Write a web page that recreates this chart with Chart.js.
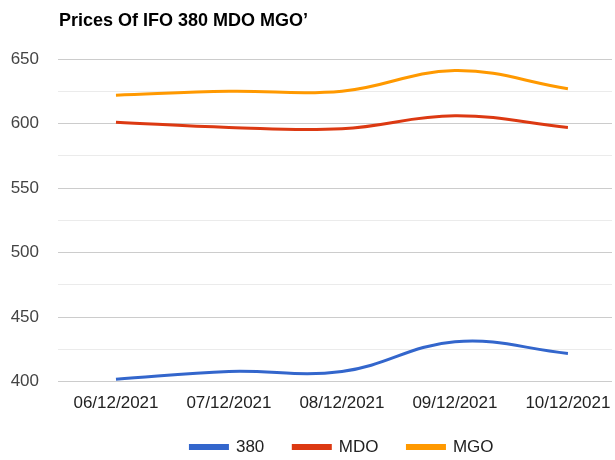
<!DOCTYPE html>
<html>
<head>
<meta charset="utf-8">
<script src="https://cdn.jsdelivr.net/npm/chart.js@4.4.1/dist/chart.umd.min.js"></script>
<style>
  body { margin: 0; background: #fff; }
  #wrap { position: relative; width: 615px; height: 460px; }
  #title { position: absolute; left: 59px; top: 10px; font: bold 18px "Liberation Sans", Arial, sans-serif; color: #000; }
</style>
</head>
<body>
<div id="wrap">
  <div id="title">Prices Of IFO 380 MDO MGO’</div>
  <canvas id="priceChart" width="615" height="460"></canvas>
</div>
<script>
const dates = ['06/12/2021', '07/12/2021', '08/12/2021', '09/12/2021', '10/12/2021'];
const ifo380 = [402, 408, 408, 431, 422];
const mdo = [601, 597, 596, 606, 597];
const mgo = [622, 625, 625, 641, 627];

const toPoints = arr => arr.map((v, i) => ({ x: i, y: v }));
const fontFamily = '"Liberation Sans", Arial, sans-serif';

function line(label, values, color) {
    return {
        label: label,
        data: toPoints(values),
        borderColor: color,
        backgroundColor: color,
        borderWidth: 3,
        pointRadius: 0,
        tension: 0.4,
        fill: false
    };
}

// nudge the legend to where the original sits (a bit right, a bit up)
const legendShift = {
    id: 'legendShift',
    afterUpdate(chart) {
        const lg = chart.legend;
        lg.left += 36;
        lg.right += 36;
        lg.top -= 5;
        lg.bottom -= 5;
    }
};

const ctx = document.getElementById('priceChart').getContext('2d');
new Chart(ctx, {
    type: 'line',
    data: {
        datasets: [
            line('380', ifo380, '#3366cc'),
            line('MDO', mdo, '#dc3912'),
            line('MGO', mgo, '#ff9900')
        ]
    },
    options: {
        responsive: false,
        animation: false,
        layout: { padding: { top: 59, right: 3, left: 0, bottom: -10.5 } },
        scales: {
            x: {
                type: 'linear',
                min: -0.513,
                max: 4.39,
                afterBuildTicks: axis => {
                    axis.ticks = dates.map((d, i) => ({ value: i }));
                },
                afterFit: s => { s.height = 32.7; },
                grid: { display: false },
                border: { display: false },
                ticks: {
                    callback: value => dates[value],
                    color: '#222',
                    font: { size: 17, family: fontFamily },
                    maxRotation: 0,
                    autoSkip: false,
                    padding: 3
                }
            },
            y: {
                min: 400,
                max: 650,
                afterFit: s => { s.width = 58; },
                border: { display: false },
                grid: {
                    color: c => (c.tick.value % 50 === 0 ? '#cccccc' : '#ebebeb'),
                    lineWidth: 1,
                    drawTicks: false
                },
                ticks: {
                    stepSize: 25,
                    callback: v => (v % 50 === 0 ? v : ''),
                    color: '#444',
                    font: { size: 17, family: fontFamily },
                    padding: 19
                }
            }
        },
        plugins: {
            legend: {
                position: 'bottom',
                labels: {
                    boxWidth: 37,
                    boxHeight: 3,
                    color: '#222',
                    padding: 29,
                    font: { size: 17, family: fontFamily }
                }
            },
            tooltip: { enabled: false }
        }
    },
    plugins: [legendShift]
});
</script>
</body>
</html>
